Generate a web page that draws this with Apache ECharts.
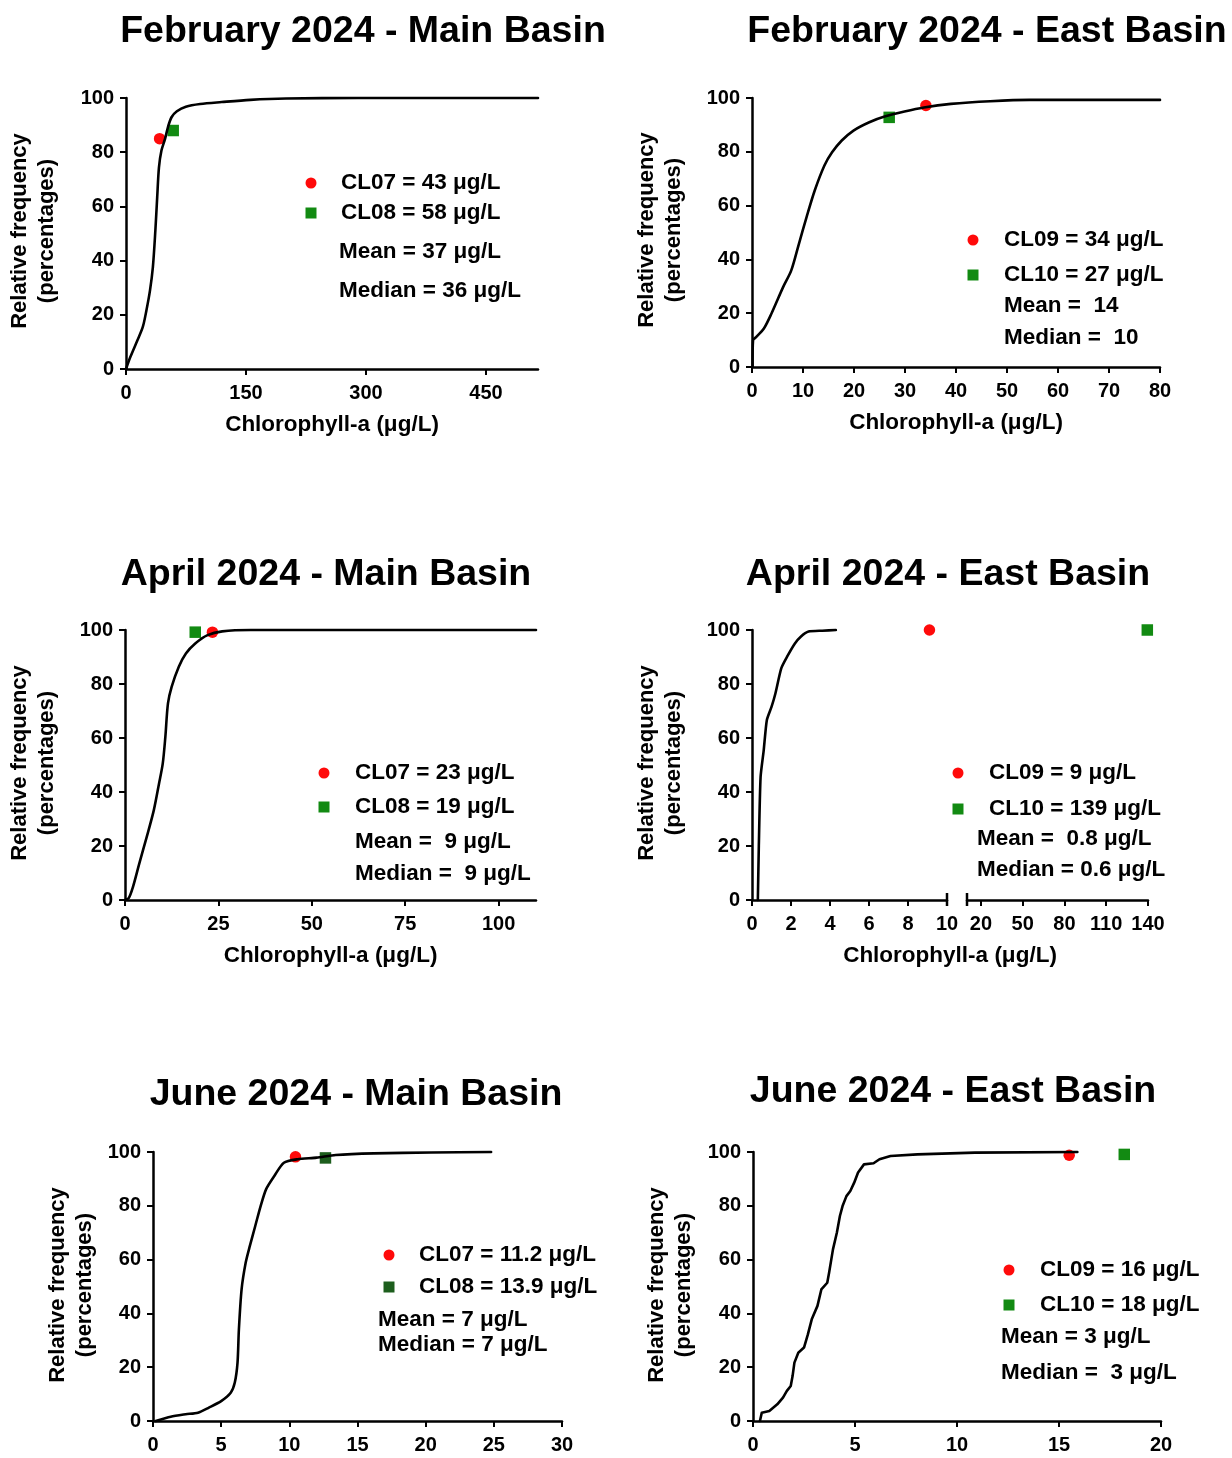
<!DOCTYPE html>
<html><head><meta charset="utf-8">
<script src="https://cdn.jsdelivr.net/npm/echarts@6/dist/echarts.min.js"></script>
<style>html,body{margin:0;padding:0;background:#fff}#c{width:1232px;height:1458px}</style>
</head><body><div id="c"></div>
<script>
// ---------------- DATA ----------------
const titles = ['February 2024 - Main Basin','February 2024 - East Basin','April 2024 - Main Basin','April 2024 - East Basin','June 2024 - Main Basin','June 2024 - East Basin'];
const yName = 'Relative frequency\n(percentages)';
const xName = 'Chlorophyll-a (μg/L)';
const yTicks = [0,20,40,60,80,100];

const febMainTicks = [0,150,300,450];
const febEastTicks = [0,10,20,30,40,50,60,70,80];
const aprMainTicks = [0,25,50,75,100];
const aprEastLowTicks = [0,2,4,6,8,10];
const aprEastHighTicks = [20,50,80,110,140];
const junMainTicks = [0,5,10,15,20,25,30];
const junEastTicks = [0,5,10,15,20];

const febMainCurve = [[0,0],[5.4,4.4],[14.3,10.6],[21,15.5],[25.5,21.6],[30,29],[33.6,37.6],[36.7,51.1],[39,63.4],[41.2,74.4],[44.3,80.6],[48.8,84.9],[52.4,89.2],[56.9,92.9],[63.6,95.1],[74.8,96.8],[92.7,97.8],[119.6,98.5],[155.4,99.3],[200,99.8],[290,100],[515,100]];
const febMainCL07 = [[42,85]];
const febMainCL08 = [[59,88]];

const febEastCurve = [[0.1,0],[0.2,9.9],[0.8,11.1],[2.3,14.2],[3.8,19.8],[6.1,29.7],[7.7,35.9],[9.2,45.8],[10.7,55.7],[12.3,65.6],[14.2,74.9],[15.7,79.8],[17.6,84.2],[19.9,87.9],[23,91],[26,93.1],[29.9,95],[33.7,96.5],[39,97.8],[46.7,98.8],[54.4,99.3],[80,99.3]];
const febEastCL09 = [[34.1,97.2]];
const febEastCL10 = [[26.9,92.8]];

const aprMainCurve = [[0,0],[1,0.7],[2.1,4.7],[3.8,13.4],[5.8,23.3],[7.7,33.2],[9.1,43.1],[10.1,50.5],[10.8,60.4],[11.5,72.8],[12.5,79],[14.4,86.4],[16.3,91.3],[18.8,95],[22.1,98.1],[26,99.5],[33.7,100],[110,100]];
const aprMainCL07 = [[23.4,99.2]];
const aprMainCL08 = [[18.8,99.2]];

const aprEastCurve = [[0.3,0],[0.35,20],[0.44,45.5],[0.6,55.4],[0.76,66.6],[1,71.5],[1.2,76.5],[1.5,85.8],[1.8,90.1],[2.2,95],[2.5,97.5],[2.9,99.4],[3.6,99.75],[4.3,100]];
const aprEastCL09 = [[9.1,100]];
const aprEastCL10 = [[139.5,100]];

const junMainCurve = [[0.2,0],[1.3,1.6],[2.4,2.5],[3.3,3.1],[4.1,5],[5,7.4],[5.7,10.5],[6,14.3],[6.2,21.7],[6.3,34],[6.5,49],[6.8,58.9],[7.1,65],[7.5,72.5],[7.9,80],[8.3,86.2],[8.9,91.1],[9.6,96],[10.6,97.3],[12,97.9],[13.4,98.9],[16.2,99.5],[20.4,99.8],[24.8,100]];
const junMainCL07 = [[10.45,98.2]];
const junMainCL08 = [[12.65,97.8]];

const junEastCurve = [[0.34,0],[0.43,3.1],[0.8,3.7],[1.19,6.2],[1.47,8.7],[1.66,11.2],[1.85,13],[1.94,16.7],[2.03,21.7],[2.22,25.4],[2.5,27.3],[2.69,32.2],[2.88,37.8],[3.16,42.8],[3.35,48.9],[3.64,51.4],[3.73,55.1],[3.92,63.8],[4.11,70],[4.26,76.2],[4.39,79.9],[4.58,83.6],[4.77,85.5],[4.96,88.6],[5.15,92.4],[5.44,95.4],[5.91,95.8],[6.2,97.3],[6.74,98.5],[8.06,99.1],[10.88,99.75],[15.9,100]];
const junEastCL09 = [[15.5,98.8]];
const junEastCL10 = [[18.2,99.1]];

const febMainLegend = ['CL07 = 43 μg/L','CL08 = 58 μg/L','Mean = 37 μg/L','Median = 36 μg/L'];
const febEastLegend = ['CL09 = 34 μg/L','CL10 = 27 μg/L','Mean =  14','Median =  10'];
const aprMainLegend = ['CL07 = 23 μg/L','CL08 = 19 μg/L','Mean =  9 μg/L','Median =  9 μg/L'];
const aprEastLegend = ['CL09 = 9 μg/L','CL10 = 139 μg/L','Mean =  0.8 μg/L','Median = 0.6 μg/L'];
const junMainLegend = ['CL07 = 11.2 μg/L','CL08 = 13.9 μg/L','Mean = 7 μg/L','Median = 7 μg/L'];
const junEastLegend = ['CL09 = 16 μg/L','CL10 = 18 μg/L','Mean = 3 μg/L','Median =  3 μg/L'];

// ---------------- LAYOUT / STYLE ----------------
const FONT = '"Liberation Sans", Arial, Helvetica, sans-serif';
const RED = '#ff0a0a', GREEN = '#128a12', DKGREEN = '#1d5e1d';
const grids = [
  {left:126, top:98, width:412, height:271},
  {left:752, top:98, width:408, height:269},
  {left:125, top:630, width:411, height:270},
  {left:752, top:630, width:195, height:270},
  {left:967, top:630, width:181, height:270},
  {left:153, top:1152, width:409, height:269},
  {left:753, top:1152, width:408, height:269}
];
const titlePos = [[363,32],[987,32],[326,575],[948,575],[356,1095],[953,1092]];
const yNamePos = [[33,231],[660,230],[33,763],[660,763],[71,1285],[670,1285]];
const legendLayout = [
  {mx:311, tx:[341,341,339,339], ty:[183,213,252,291], g:GREEN},
  {mx:973, tx:[1004,1004,1004,1004], ty:[240,275,306,338], g:GREEN},
  {mx:324, tx:[355,355,355,355], ty:[773,807,842,874], g:GREEN},
  {mx:958, tx:[989,989,977,977], ty:[773,809,839,870], g:GREEN},
  {mx:389, tx:[419,419,378,378], ty:[1255,1287,1320,1345], g:DKGREEN},
  {mx:1009, tx:[1040,1040,1001,1001], ty:[1270,1305,1337,1373], g:GREEN}
];
const legends = [febMainLegend, febEastLegend, aprMainLegend, aprEastLegend, junMainLegend, junEastLegend];

const labelStyle = {color:'#000', fontSize:20, fontWeight:'bold', fontFamily:FONT, margin:12};
const xLabelStyle = {color:'#000', fontSize:20, fontWeight:'bold', fontFamily:FONT, margin:14};
const nameStyle = {color:'#000', fontSize:22.5, fontWeight:'bold', fontFamily:FONT};

function xAx(g, min, max, ticks, name) {
  return {
    type:'value', gridIndex:g, min:min, max:max,
    axisLine:{show:true, onZero:false, lineStyle:{color:'#000', width:2.5}},
    axisTick:{show:true, length:6, lineStyle:{color:'#000', width:2}, customValues:ticks},
    axisLabel:Object.assign({customValues:ticks}, xLabelStyle),
    splitLine:{show:false},
    name:name || '', nameLocation:'middle', nameGap:44, nameTextStyle:nameStyle
  };
}
function yAx(g, show) {
  return {
    type:'value', gridIndex:g, min:0, max:100, interval:20, show:show,
    axisLine:{show:true, lineStyle:{color:'#000', width:2.5}},
    axisTick:{show:true, length:6, lineStyle:{color:'#000', width:2}},
    axisLabel:labelStyle,
    splitLine:{show:false}
  };
}
function lineS(i, data, smooth) {
  return {type:'line', xAxisIndex:i, yAxisIndex:i, data:data, showSymbol:false, smooth:smooth,
    clip:false, z:3, lineStyle:{color:'#000', width:2.6, join:'round', cap:'round'}, animation:false};
}
function dotS(i, data, sym, color) {
  return {type:'scatter', xAxisIndex:i, yAxisIndex:i, data:data, symbol:sym, symbolSize:11.5, clip:false, z:2,
    itemStyle:{color:color, opacity:1}, animation:false};
}

const xAxes = [
  xAx(0, 0, 515, febMainTicks, xName),
  xAx(1, 0, 80, febEastTicks, xName),
  xAx(2, 0, 110, aprMainTicks, xName),
  xAx(3, 0, 10, aprEastLowTicks),
  xAx(4, 10, 140, aprEastHighTicks),
  xAx(5, 0, 30, junMainTicks),
  xAx(6, 0, 20, junEastTicks)
];
const yAxes = [yAx(0,true), yAx(1,true), yAx(2,true), yAx(3,true), yAx(4,false), yAx(5,true), yAx(6,true)];

const series = [
  lineS(0, febMainCurve, 0.3), dotS(0, febMainCL07, 'circle', RED), dotS(0, febMainCL08, 'rect', GREEN),
  lineS(1, febEastCurve, 0.3), dotS(1, febEastCL09, 'circle', RED), dotS(1, febEastCL10, 'rect', GREEN),
  lineS(2, aprMainCurve, 0.3), dotS(2, aprMainCL07, 'circle', RED), dotS(2, aprMainCL08, 'rect', GREEN),
  lineS(3, aprEastCurve, 0.2), dotS(3, aprEastCL09, 'circle', RED), dotS(4, aprEastCL10, 'rect', GREEN),
  lineS(5, junMainCurve, 0.25), dotS(5, junMainCL07, 'circle', RED), dotS(5, junMainCL08, 'rect', DKGREEN),
  lineS(6, junEastCurve, false), dotS(6, junEastCL09, 'circle', RED), dotS(6, junEastCL10, 'rect', GREEN)
];

const graphics = [];
titles.forEach((t, i) => {
  graphics.push({type:'text', x:titlePos[i][0], y:titlePos[i][1], silent:true,
    style:{text:t, fill:'#000', font:'bold 37.5px ' + FONT, align:'center', verticalAlign:'middle'}});
  graphics.push({type:'text', x:yNamePos[i][0], y:yNamePos[i][1], rotation:Math.PI/2, silent:true,
    style:{text:yName, fill:'#000', font:'bold 22px ' + FONT, align:'center', verticalAlign:'middle', lineHeight:27}});
  const L = legendLayout[i];
  graphics.push({type:'circle', silent:true, shape:{cx:L.mx, cy:L.ty[0], r:5.5}, style:{fill:RED}});
  graphics.push({type:'rect', silent:true, shape:{x:L.mx-5.5, y:L.ty[1]-5.5, width:11, height:11}, style:{fill:L.g}});
  legends[i].forEach((s, k) => {
    graphics.push({type:'text', x:L.tx[k], y:L.ty[k], silent:true,
      style:{text:s, fill:'#000', font:'bold 22.5px ' + FONT, align:'left', verticalAlign:'middle'}});
  });
});
graphics.push({type:'text', x:950, y:956, silent:true,
  style:{text:xName, fill:'#000', font:'bold 22.5px ' + FONT, align:'center', verticalAlign:'middle'}});

const chart = echarts.init(document.getElementById('c'), null, {renderer:'canvas'});
chart.setOption({
  backgroundColor:'#fff', animation:false,
  grid:grids.map(g => Object.assign({containLabel:false}, g)),
  xAxis:xAxes, yAxis:yAxes, series:series, graphic:graphics
});
const pL = chart.convertToPixel({xAxisIndex:3, yAxisIndex:3}, [10, 0]);
const pR = chart.convertToPixel({xAxisIndex:4, yAxisIndex:4}, [10, 0]);
graphics.push({type:'line', silent:true, shape:{x1:pL[0], y1:pL[1]-7, x2:pL[0], y2:pL[1]+6}, style:{stroke:'#000', lineWidth:2.5}});
graphics.push({type:'line', silent:true, shape:{x1:pR[0], y1:pR[1]-7, x2:pR[0], y2:pR[1]+6}, style:{stroke:'#000', lineWidth:2.5}});
chart.setOption({graphic:graphics});
</script></body></html>
